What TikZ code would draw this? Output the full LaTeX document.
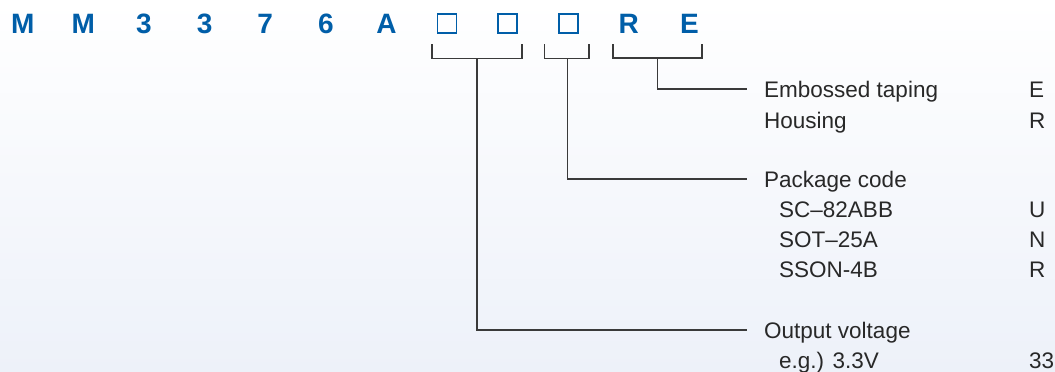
\documentclass[tikz,border=0pt]{standalone}
\usepackage{fontspec}
\setmainfont{Liberation Sans}
\usetikzlibrary{calc}
\definecolor{codeblue}{RGB}{0,94,168}
\definecolor{linegrey}{RGB}{58,58,58}
\definecolor{textgrey}{RGB}{40,40,40}
\definecolor{bgblue}{RGB}{237,241,249}
\begin{document}
\begin{tikzpicture}[x=1pt,y=-1pt,
    partchar/.style={font=\fontsize{28}{30}\selectfont\bfseries, text=codeblue, inner sep=0pt, anchor=base},
    blankbox/.style={draw=codeblue, line width=1.8pt, minimum size=19pt, inner sep=0pt},
    bracket/.style={draw=linegrey, line width=1.3pt},
    desc/.style={font=\fontsize{22.5}{27}\selectfont, text=textgrey, inner sep=0pt, anchor=base west}]
  \useasboundingbox (0,0) rectangle (1055,372);
  % background
  \shade[top color=white, bottom color=bgblue] (0,0) rectangle (1055,372);

  % part number
  \foreach \c [count=\i] in {M,M,3,3,7,6,A}
    \node[partchar] (c\i) at ({22.8+60.6*(\i-1)},33.3) {\c};
  \node[blankbox] (b1) at (447,23.3) {};
  \node[blankbox] (b2) at (507.6,23.3) {};
  \node[blankbox] (b3) at (568.2,23.3) {};
  \node[partchar] (cR) at (628.8,33.3) {R};
  \node[partchar] (cE) at (689.4,33.3) {E};

  % brackets under the code
  \coordinate (br1l) at ($(b1.south west)+(-4.5,10.7)$);
  \coordinate (br1r) at ($(b2.south east)+(3.9,10.7)$);
  \coordinate (br2l) at ($(b3.south west)+(-13.5,10.7)$);
  \coordinate (br2r) at ($(b3.south east)+(10.5,10.7)$);
  \coordinate (br3l) at (613,44);
  \coordinate (br3r) at (702,44);
  \draw[bracket] (br1l) -- ++(0,14) -| (br1r);
  \draw[bracket] (br2l) -- ++(0,14) -| (br2r);
  \draw[bracket] (br3l) -- ++(0,14) -| (br3r);

  % descriptions
  \node[desc] (emb) at (764,97) {Embossed taping};
  \node[desc] (embc) at (1029,97) {E};
  \node[desc] (hous) at (764,128) {Housing};
  \node[desc] (housc) at (1029,128) {R};
  \node[desc] (pkg) at (764,187) {Package code};
  \node[desc] (sc) at (779,217) {SC–82ABB};
  \node[desc] (scc) at (1029,217) {U};
  \node[desc] (sot) at (779,247) {SOT–25A};
  \node[desc] (sotc) at (1029,247) {N};
  \node[desc] (sson) at (779,277) {SSON-4B};
  \node[desc] (ssonc) at (1029,277) {R};
  \node[desc] (outv) at (764,338) {Output voltage};
  \node[desc] (eg) at (779,368) {e.g.) 3.3V};
  \node[desc] (egc) at (1029,368) {33};

  % leaders
  \draw[bracket] (657.5,58) |- ([xshift=-17pt,yshift=8pt]emb.base west);
  \draw[bracket] (567.5,58) |- ([xshift=-17pt,yshift=8pt]pkg.base west);
  \draw[bracket] (477,58) |- ([xshift=-17pt,yshift=8pt]outv.base west);
\end{tikzpicture}
\end{document}
